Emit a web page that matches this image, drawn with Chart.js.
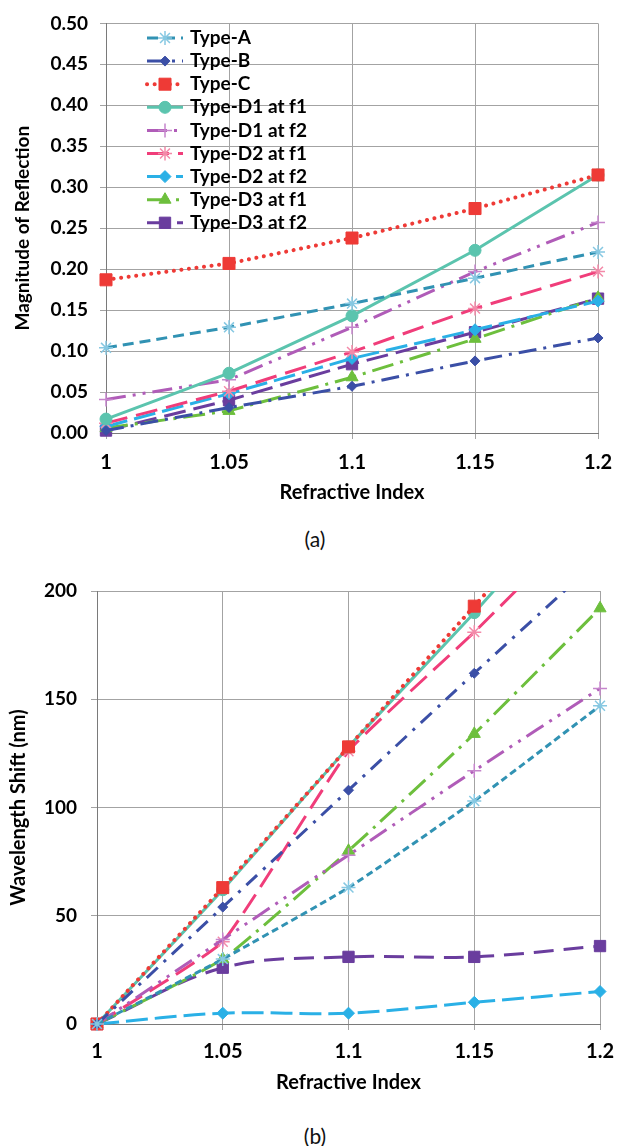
<!DOCTYPE html>
<html>
<head>
<meta charset="utf-8">
<script src="https://cdn.jsdelivr.net/npm/chart.js@4"></script>
<style>
    body { margin: 0; background: #fff; width: 624px; height: 1146px; position: relative; overflow: hidden; font-family: Lato, "Open Sans", sans-serif; }
    .box { position: absolute; left: 0; width: 624px; }
    .cap { position: absolute; left: 0; width: 630px; text-align: center; font-size: 21px; line-height: 26px; color: #111; }
</style>
</head>
<body>
<div class="box" style="top:0;height:510px"><canvas id="reflectionChart"></canvas></div>
<div class="cap" style="top:526px">(a)</div>
<div class="box" style="top:560px;height:540px"><canvas id="shiftChart"></canvas></div>
<div class="cap" style="top:1123px">(b)</div>
<script>
const refractiveIndex = ['1', '1.05', '1.1', '1.15', '1.2'];
const seriesNames = ['Type-A', 'Type-B', 'Type-C', 'Type-D1 at f1', 'Type-D1 at f2', 'Type-D2 at f1', 'Type-D2 at f2', 'Type-D3 at f1', 'Type-D3 at f2'];

// (a) magnitude of reflection
const reflTypeA = [0.104, 0.129, 0.158, 0.189, 0.221];
const reflTypeB = [0.003, 0.031, 0.057, 0.088, 0.116];
const reflTypeC = [0.187, 0.207, 0.238, 0.274, 0.315];
const reflD1f1 = [0.017, 0.073, 0.143, 0.223, 0.315];
const reflD1f2 = [0.041, 0.065, 0.129, 0.197, 0.257];
const reflD2f1 = [0.012, 0.051, 0.099, 0.152, 0.197];
const reflD2f2 = [0.008, 0.048, 0.091, 0.126, 0.161];
const reflD3f1 = [0.006, 0.027, 0.068, 0.115, 0.165];
const reflD3f2 = [0.003, 0.040, 0.084, 0.123, 0.164];

// (b) wavelength shift (nm)
const shiftTypeA = [0, 30, 63, 103, 147];
const shiftTypeB = [0, 54, 108, 162, 215];
const shiftTypeC = [0, 63, 128, 193, 258];
const shiftD1f1 = [0, 62, 128, 190, 255];
const shiftD1f2 = [0, 39, 78, 117, 155];
const shiftD2f1 = [0, 38, 126, 181, 239];
const shiftD2f2 = [0, 5, 5, 10, 15];
const shiftD3f1 = [0, 30, 80, 134, 192];
const shiftD3f2 = [0, 26, 31, 31, 36];

const styles = [
    { color: '#3192b3', marker: '#86c8e2', dash: [11, 6], point: 'star', radius: 7 },
    { color: '#3b4fa6', marker: '#3b4fa6', dash: [18, 7, 3, 7], point: 'rectRot', radius: 5 },
    { color: '#ee3a36', marker: '#ee3a36', dash: [0.1, 7.5], cap: 'round', width: 4, point: 'rect', radius: 8.5 },
    { color: '#5bc4ae', marker: '#5bc4ae', dash: [], point: 'circle', radius: 6 },
    { color: '#b05cb8', marker: '#c585cc', dash: [20, 7, 3, 7, 3, 7], point: 'cross', radius: 7 },
    { color: '#f03d7a', marker: '#f38aa9', dash: [22, 9], point: 'star', radius: 7 },
    { color: '#2ab0e6', marker: '#2ab0e6', dash: [22, 7], point: 'rectRot', radius: 6 },
    { color: '#6dbf3d', marker: '#6dbf3d', dash: [22, 7, 3, 7], point: 'triangle', radius: 7 },
    { color: '#6a3d9e', marker: '#6a3d9e', dash: [22, 8], point: 'rect', radius: 8 }
];

const innerLegend = {
    id: 'innerLegend',
    afterDatasetsDraw(chart, args, opts) {
        const ctx = chart.ctx;
        ctx.save();
        ctx.font = `bold ${opts.size}px Lato`;
        ctx.textBaseline = 'middle';
        chart.data.datasets.forEach((ds, i) => {
            const y = opts.top + i * opts.step;
            ctx.strokeStyle = ds.borderColor;
            ctx.lineWidth = ds.borderWidth;
            ctx.lineCap = ds.borderCapStyle || 'butt';
            ctx.setLineDash(ds.legendDash || ds.borderDash || []);
            ctx.beginPath();
            ctx.moveTo(opts.x0, y);
            ctx.lineTo(opts.x1, y);
            ctx.stroke();
            ctx.setLineDash([]);
            ctx.lineCap = 'butt';
            ctx.fillStyle = ds.pointBackgroundColor;
            ctx.strokeStyle = ds.pointBorderColor;
            ctx.lineWidth = ds.pointBorderWidth;
            Chart.helpers.drawPoint(ctx, { pointStyle: ds.pointStyle, radius: ds.pointRadius, rotation: 0, borderWidth: ds.pointBorderWidth }, (opts.x0 + opts.x1) / 2, y);
            ctx.fillStyle = '#000';
            ctx.fillText(ds.label, opts.textX, y);
        });
        ctx.restore();
    }
};

const buildDatasets = (series, tension, dashOverride, legendDash) => series.map((values, i) => {
    const s = styles[i];
    const open = s.point === 'star' || s.point === 'cross';
    return {
        label: seriesNames[i],
        data: values,
        borderColor: s.color,
        borderWidth: s.width || 3,
        borderDash: (dashOverride && dashOverride[i]) || s.dash,
        legendDash: legendDash && legendDash[i],
        borderCapStyle: s.cap || 'butt',
        tension: Array.isArray(tension) ? tension[i] : tension,
        pointStyle: s.point,
        pointRadius: s.radius,
        pointBackgroundColor: s.marker,
        pointBorderColor: s.marker,
        pointBorderWidth: open ? 1.5 : 1,
        clip: { left: 12, right: 12, top: 0, bottom: 12 }
    };
});

const makeChart = (id, o) => {
    const ctx = document.getElementById(id).getContext('2d');
    return new Chart(ctx, {
        type: 'line',
        data: { labels: refractiveIndex, datasets: o.datasets },
        plugins: [innerLegend],
        options: {
            responsive: true,
            maintainAspectRatio: false,
            animation: false,
            layout: { padding: { top: o.padTop, right: o.padRight, left: 0, bottom: 0 } },
            plugins: {
                legend: { display: false },
                tooltip: { enabled: false },
                innerLegend: o.legend
            },
            scales: {
                x: {
                    offset: false,
                    afterFit: (scale) => { scale.height = o.xHeight; },
                    grid: { color: '#a3a3a3', lineWidth: 1, tickLength: 6, tickColor: '#a3a3a3' },
                    border: { color: '#7a7a7a' },
                    ticks: { color: '#000', padding: o.xTickPad, maxRotation: 0, font: { family: 'Lato', weight: 'bold', size: 20 } },
                    title: { display: true, text: 'Refractive Index', color: '#000', padding: { top: 0, bottom: 5 }, font: { family: 'Lato', weight: 'bold', size: 20 } }
                },
                y: {
                    min: o.min,
                    max: o.max,
                    afterFit: (scale) => { scale.width = o.yWidth; },
                    grid: { color: '#a3a3a3', lineWidth: 1, tickLength: 6, tickColor: '#a3a3a3' },
                    border: { color: '#7a7a7a' },
                    ticks: { stepSize: o.step, color: '#000', padding: o.yTickPad, callback: o.fmt, font: { family: 'Lato', weight: 'bold', size: o.yFont } },
                    title: { display: true, text: o.yTitle, color: '#000', padding: { top: o.yTitlePad, bottom: 0 }, font: { family: 'Lato', weight: 'bold', size: o.yTitleFont } }
                }
            }
        }
    });
};

makeChart('reflectionChart', {
    datasets: buildDatasets([reflTypeA, reflTypeB, reflTypeC, reflD1f1, reflD1f2, reflD2f1, reflD2f2, reflD3f1, reflD3f2], 0),
    padTop: 22, padRight: 17, xHeight: 77, yWidth: 106,
    xTickPad: 12, yTickPad: 12, yTitlePad: 11, yFont: 19, yTitleFont: 19,
    min: 0, max: 0.5, step: 0.05,
    fmt: (v) => v.toFixed(2),
    yTitle: 'Magnitude of Reflection',
    legend: { x0: 147, x1: 183, textX: 190, top: 38, step: 23.1, size: 19 }
});

makeChart('shiftChart', {
    datasets: buildDatasets([shiftTypeA, shiftTypeB, shiftTypeC, shiftD1f1, shiftD1f2, shiftD2f1, shiftD2f2, shiftD3f1, shiftD3f2],
        [0.15, 0.15, 0.15, 0.15, 0.15, 0.12, 0.35, 0.15, 0.35],
        { 0: [7, 4], 1: [15, 8, 3, 8], 8: [20, 10] }, { 1: [1, 0] }),
    padTop: 31, padRight: 14, xHeight: 76, yWidth: 97,
    xTickPad: 10, yTickPad: 14, yTitlePad: 7, yFont: 19, yTitleFont: 20,
    min: 0, max: 200, step: 50,
    fmt: (v) => String(v),
    yTitle: 'Wavelength Shift (nm)',
    legend: { x0: 130, x1: 168, textX: 172, top: 610, step: 23.2, size: 20 }
});
</script>
</body>
</html>
